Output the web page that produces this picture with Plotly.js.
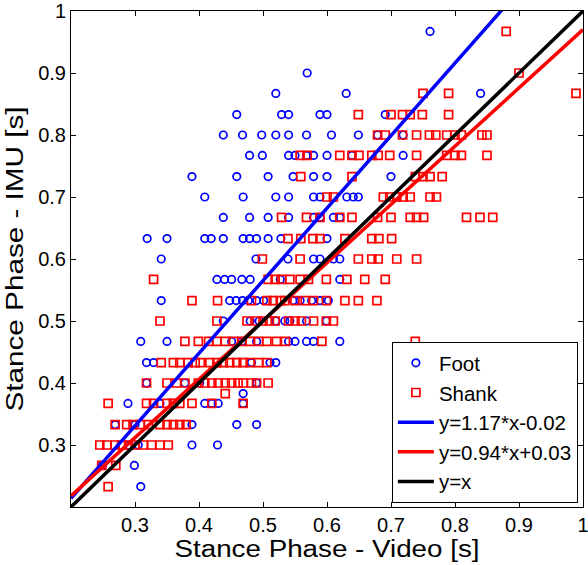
<!DOCTYPE html>
<html>
<head>
<meta charset="utf-8">
<script src="https://cdn.plot.ly/plotly-3.0.1.min.js"></script>
<style>html,body{margin:0;padding:0;background:#fff;}#chart{width:588px;height:565px;}</style>
</head>
<body>
<div id="chart"></div>
<script>
// Foot (IMU on foot) : rows of [stance IMU value, list of stance video values]
const footRows = [
  [0.967, [0.761]],
  [0.900, [0.569]],
  [0.867, [0.520, 0.630, 0.840]],
  [0.833, [0.459, 0.529, 0.540, 0.589, 0.600, 0.691]],
  [0.800, [0.438, 0.468, 0.498, 0.520, 0.540, 0.568, 0.607, 0.649, 0.679, 0.719]],
  [0.767, [0.479, 0.499, 0.540, 0.550, 0.568, 0.579, 0.600, 0.639, 0.719]],
  [0.733, [0.389, 0.459, 0.508, 0.547, 0.579, 0.600, 0.700]],
  [0.700, [0.409, 0.469, 0.520, 0.540, 0.579, 0.589, 0.631, 0.641, 0.649]],
  [0.667, [0.438, 0.479, 0.508, 0.540, 0.579, 0.589, 0.610, 0.620]],
  [0.633, [0.319, 0.350, 0.409, 0.419, 0.438, 0.469, 0.479, 0.490, 0.508, 0.528, 0.600]],
  [0.600, [0.341, 0.489, 0.539, 0.579, 0.589, 0.610, 0.620]],
  [0.567, [0.428, 0.440, 0.451, 0.467, 0.480, 0.527, 0.620]],
  [0.533, [0.341, 0.448, 0.458, 0.468, 0.477, 0.490, 0.501, 0.547, 0.558, 0.576, 0.589, 0.602]],
  [0.500, [0.438, 0.480, 0.494, 0.520, 0.534, 0.542, 0.568, 0.599]],
  [0.467, [0.309, 0.350, 0.451, 0.467, 0.490, 0.540, 0.550, 0.568, 0.579, 0.620]],
  [0.433, [0.318, 0.329, 0.482, 0.511, 0.520]],
  [0.400, [0.318, 0.378, 0.401, 0.490]],
  [0.383, [0.469]],
  [0.367, [0.289, 0.339, 0.409, 0.420, 0.430, 0.469]],
  [0.333, [0.269, 0.300, 0.389, 0.459, 0.490]],
  [0.300, [0.290, 0.305, 0.389, 0.429]],
  [0.267, [0.249, 0.299]],
  [0.233, [0.309]]
];
// Shank (IMU on shank)
const shankRows = [
  [0.967, [0.880]],
  [0.900, [0.900]],
  [0.867, [0.750, 0.790, 0.989]],
  [0.833, [0.649, 0.700, 0.718, 0.730, 0.749, 0.790]],
  [0.800, [0.679, 0.691, 0.718, 0.740, 0.760, 0.770, 0.787, 0.800, 0.810, 0.842, 0.850]],
  [0.767, [0.558, 0.569, 0.620, 0.639, 0.650, 0.670, 0.680, 0.698, 0.740, 0.787, 0.800, 0.810, 0.850]],
  [0.733, [0.559, 0.639, 0.738, 0.750, 0.761, 0.780]],
  [0.700, [0.600, 0.610, 0.688, 0.698, 0.709, 0.719, 0.730, 0.761, 0.771]],
  [0.667, [0.529, 0.568, 0.589, 0.620, 0.639, 0.679, 0.700, 0.730, 0.740, 0.751, 0.818, 0.839, 0.859]],
  [0.633, [0.539, 0.559, 0.578, 0.589, 0.628, 0.670, 0.681, 0.701]],
  [0.600, [0.499, 0.558, 0.649, 0.670, 0.680, 0.709, 0.740]],
  [0.567, [0.329, 0.508, 0.519, 0.529, 0.542, 0.558, 0.571, 0.599, 0.631, 0.659, 0.691]],
  [0.533, [0.389, 0.429, 0.482, 0.506, 0.516, 0.527, 0.534, 0.550, 0.566, 0.579, 0.599, 0.628, 0.649, 0.678]],
  [0.500, [0.339, 0.428, 0.475, 0.490, 0.500, 0.510, 0.519, 0.540, 0.550, 0.560, 0.579, 0.599, 0.610]],
  [0.467, [0.378, 0.399, 0.415, 0.428, 0.441, 0.454, 0.467, 0.480, 0.493, 0.506, 0.521, 0.535, 0.592, 0.738]],
  [0.433, [0.341, 0.360, 0.370, 0.383, 0.394, 0.402, 0.417, 0.428, 0.438, 0.448, 0.459, 0.469, 0.480, 0.493, 0.506]],
  [0.400, [0.318, 0.350, 0.365, 0.378, 0.399, 0.409, 0.420, 0.430, 0.441, 0.451, 0.461, 0.469, 0.482, 0.490, 0.508]],
  [0.383, [0.441]],
  [0.367, [0.258, 0.318, 0.329, 0.350, 0.360, 0.370, 0.389, 0.420, 0.469]],
  [0.333, [0.269, 0.287, 0.297, 0.308, 0.321, 0.339, 0.350, 0.360, 0.370, 0.380]],
  [0.300, [0.245, 0.256, 0.269, 0.279, 0.290, 0.300, 0.313, 0.326, 0.339, 0.352]],
  [0.267, [0.248, 0.270]],
  [0.233, [0.258]]
];
// Regression lines: slope / intercept
const fitNames = ['y=1.17*x-0.02', 'y=0.94*x+0.03', 'y=x'];
const fitSlopes = [1.17, 0.94, 1.0];
const fitIntercepts = [-0.02, 0.03, 0.0];
const fitColors = ['#0000ff', '#ff0000', '#000000'];
const lineXRange = [0.2, 1.0];
const tickVals = [0.3, 0.4, 0.5, 0.6, 0.7, 0.8, 0.9, 1.0];
const tickText = ['0.3', '0.4', '0.5', '0.6', '0.7', '0.8', '0.9', '1'];

function flatten(rows) {
  const xs = [], ys = [];
  rows.forEach(r => r[1].forEach(x => { xs.push(x); ys.push(r[0]); }));
  return {xs, ys};
}
const foot = flatten(footRows);
const shank = flatten(shankRows);

const traces = [
  {x: foot.xs, y: foot.ys, mode: 'markers', type: 'scatter', name: 'Foot',
   marker: {symbol: 'circle-open', size: 7.5, color: '#0000ff', line: {width: 1.7, color: '#0000ff'}}},
  {x: shank.xs, y: shank.ys, mode: 'markers', type: 'scatter', name: 'Shank',
   marker: {symbol: 'square-open', size: 8, color: '#ff0000', line: {width: 1.7, color: '#ff0000'}}}
];
fitNames.forEach((n, i) => {
  traces.push({
    x: lineXRange,
    y: lineXRange.map(x => fitSlopes[i] * x + fitIntercepts[i]),
    mode: 'lines', type: 'scatter', name: n,
    line: {color: fitColors[i], width: 3.5}
  });
});

const fontFam = 'Liberation Sans, Arial, sans-serif';
const axisCommon = {
  range: [0.2, 1.0], tickvals: tickVals, ticktext: tickText,
  ticks: 'inside', ticklen: 5, tickwidth: 1, tickcolor: '#000',
  showline: true, linecolor: '#000', linewidth: 1, mirror: 'ticks',
  showgrid: false, zeroline: false, ticklabeloverflow: 'allow',
  tickfont: {family: fontFam, size: 20, color: '#000'}
};
const layout = {
  width: 588, height: 565,
  margin: {l: 71, r: 5, t: 11, b: 58},
  paper_bgcolor: '#fff', plot_bgcolor: '#fff',
  showlegend: true,
  xaxis: Object.assign({}, axisCommon, {
    title: {text: 'Stance Phase - Video [s]', font: {family: fontFam, size: 23, color: '#000'}, standoff: 4}
  }),
  yaxis: Object.assign({}, axisCommon, {
    title: {text: 'Stance Phase - IMU [s]', font: {family: fontFam, size: 23, color: '#000'}, standoff: 8}
  }),
  legend: {
    x: 0.990, xanchor: 'right', y: 0.008, yanchor: 'bottom',
    bgcolor: '#fff', bordercolor: '#000', borderwidth: 1,
    font: {family: fontFam, size: 20.5, color: '#000'},
    itemwidth: 36
  }
};
Plotly.newPlot('chart', traces, layout, {displayModeBar: false, staticPlot: true}).then(gd => {
  // stretch axis titles horizontally to match the reference's wide lettering
  const xt = gd.querySelector('.g-xtitle text');
  if (xt) { xt.setAttribute('textLength', '305'); xt.setAttribute('lengthAdjust', 'spacingAndGlyphs'); }
  const yt = gd.querySelector('.g-ytitle text');
  if (yt) { yt.setAttribute('textLength', '305'); yt.setAttribute('lengthAdjust', 'spacingAndGlyphs'); }
});
</script>
</body>
</html>
